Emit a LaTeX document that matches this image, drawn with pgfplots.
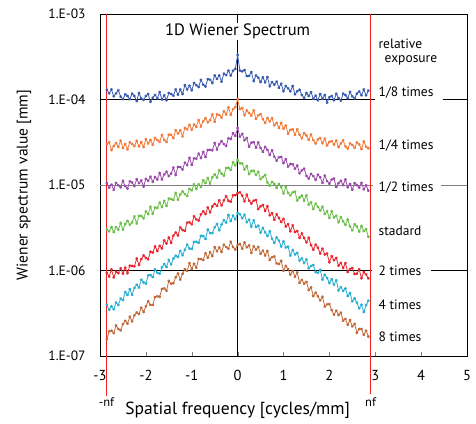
\documentclass[border=0pt]{standalone}
\usepackage{pgfplots}
\usepackage{pgfplotstable}
\pgfplotsset{compat=1.18}
\usepackage{fontspec}
\setmainfont{PT Sans}
\definecolor{cB}{HTML}{3A5BB0}
\definecolor{cO}{HTML}{F07A3A}
\definecolor{cP}{HTML}{9A4AA8}
\definecolor{cG}{HTML}{6CBF4A}
\definecolor{cR}{HTML}{E8282E}
\definecolor{cC}{HTML}{2AAFD0}
\definecolor{cBr}{HTML}{C06A3A}
\definecolor{nfred}{HTML}{F02020}
\pgfplotstableread{
x B O P G R C Br
-2.85 1.30e-4 3.00e-5 1.05e-5 3.02e-6 0.94e-6 3.98e-7 1.57e-7
-2.80 1.18e-4 3.16e-5 0.93e-5 2.87e-6 0.85e-6 3.47e-7 1.94e-7
-2.75 1.31e-4 2.56e-5 1.01e-5 3.22e-6 1.03e-6 3.82e-7 1.98e-7
-2.70 1.09e-4 2.86e-5 0.88e-5 2.81e-6 0.83e-6 3.51e-7 1.85e-7
-2.65 1.18e-4 3.10e-5 1.06e-5 3.22e-6 0.97e-6 4.22e-7 2.28e-7
-2.60 1.28e-4 2.79e-5 0.99e-5 3.01e-6 0.93e-6 3.95e-7 2.07e-7
-2.55 1.08e-4 3.31e-5 0.94e-5 3.60e-6 1.06e-6 4.69e-7 2.00e-7
-2.50 1.01e-4 2.70e-5 1.12e-5 3.01e-6 0.92e-6 4.51e-7 2.36e-7
-2.45 1.15e-4 3.01e-5 0.97e-5 3.49e-6 1.08e-6 5.61e-7 2.58e-7
-2.40 1.10e-4 2.61e-5 0.91e-5 3.81e-6 0.93e-6 5.18e-7 2.39e-7
-2.35 1.01e-4 3.16e-5 1.10e-5 3.43e-6 1.14e-6 6.05e-7 2.88e-7
-2.30 1.17e-4 3.02e-5 1.07e-5 3.66e-6 1.13e-6 5.19e-7 2.54e-7
-2.25 1.10e-4 2.85e-5 0.97e-5 4.29e-6 1.12e-6 6.26e-7 2.99e-7
-2.20 0.96e-4 3.29e-5 1.17e-5 3.55e-6 1.38e-6 6.83e-7 3.23e-7
-2.15 1.19e-4 2.83e-5 1.05e-5 4.37e-6 1.16e-6 6.32e-7 3.10e-7
-2.10 1.03e-4 3.18e-5 1.13e-5 4.34e-6 1.36e-6 7.81e-7 3.68e-7
-2.05 0.99e-4 2.77e-5 0.96e-5 4.08e-6 1.50e-6 7.25e-7 3.27e-7
-2.00 1.10e-4 3.44e-5 1.18e-5 4.90e-6 1.40e-6 7.04e-7 3.81e-7
-1.95 1.16e-4 3.06e-5 1.12e-5 4.56e-6 1.35e-6 8.75e-7 4.38e-7
-1.90 0.94e-4 3.36e-5 1.25e-5 5.57e-6 1.66e-6 8.84e-7 3.96e-7
-1.85 1.05e-4 2.95e-5 1.09e-5 4.60e-6 1.62e-6 8.37e-7 3.96e-7
-1.80 1.13e-4 3.56e-5 1.24e-5 5.46e-6 1.91e-6 10.3e-7 4.89e-7
-1.75 1.03e-4 3.35e-5 1.16e-5 5.39e-6 1.69e-6 9.41e-7 5.00e-7
-1.70 1.22e-4 3.20e-5 1.38e-5 6.22e-6 1.94e-6 9.18e-7 4.93e-7
-1.65 1.00e-4 3.86e-5 1.16e-5 5.51e-6 1.81e-6 10.9e-7 6.10e-7
-1.60 1.12e-4 3.37e-5 1.33e-5 6.53e-6 2.25e-6 11.9e-7 6.18e-7
-1.55 0.98e-4 3.19e-5 1.43e-5 5.70e-6 2.07e-6 11.0e-7 5.80e-7
-1.50 1.19e-4 3.89e-5 1.27e-5 6.95e-6 2.43e-6 13.3e-7 7.57e-7
-1.45 1.16e-4 3.86e-5 1.36e-5 6.85e-6 2.11e-6 11.8e-7 7.01e-7
-1.40 1.11e-4 3.55e-5 1.60e-5 6.70e-6 2.55e-6 13.8e-7 7.10e-7
-1.35 1.31e-4 4.37e-5 1.31e-5 8.09e-6 2.78e-6 14.9e-7 8.35e-7
-1.30 1.14e-4 4.00e-5 1.63e-5 6.73e-6 2.57e-6 14.4e-7 9.24e-7
-1.25 1.31e-4 4.36e-5 1.62e-5 7.75e-6 3.19e-6 17.0e-7 7.83e-7
-1.20 1.16e-4 3.71e-5 1.52e-5 8.42e-6 2.98e-6 15.1e-7 9.16e-7
-1.15 1.47e-4 4.64e-5 1.83e-5 7.81e-6 2.91e-6 17.5e-7 10.4e-7
-1.10 1.31e-4 4.47e-5 1.71e-5 7.44e-6 3.63e-6 20.1e-7 9.89e-7
-1.05 1.45e-4 5.06e-5 2.08e-5 9.01e-6 3.66e-6 18.1e-7 12.2e-7
-1.00 1.28e-4 4.43e-5 1.72e-5 8.66e-6 3.47e-6 17.9e-7 10.4e-7
-0.95 1.56e-4 5.10e-5 2.05e-5 10.2e-6 4.31e-6 21.6e-7 12.0e-7
-0.90 1.47e-4 4.78e-5 2.03e-5 8.98e-6 3.96e-6 21.7e-7 10.8e-7
-0.85 1.40e-4 5.74e-5 2.33e-5 10.2e-6 3.85e-6 21.1e-7 13.7e-7
-0.80 1.70e-4 4.83e-5 2.06e-5 9.48e-6 4.54e-6 25.5e-7 13.6e-7
-0.75 1.49e-4 5.56e-5 2.44e-5 11.4e-6 4.92e-6 25.3e-7 13.3e-7
-0.70 1.42e-4 6.05e-5 2.13e-5 10.5e-6 4.56e-6 23.4e-7 15.9e-7
-0.65 1.73e-4 5.41e-5 2.58e-5 12.1e-6 5.45e-6 30.1e-7 14.1e-7
-0.60 1.71e-4 5.73e-5 2.58e-5 10.4e-6 4.78e-6 27.4e-7 16.4e-7
-0.55 1.56e-4 6.68e-5 2.55e-5 12.3e-6 5.61e-6 27.4e-7 14.8e-7
-0.50 1.91e-4 5.49e-5 3.11e-5 13.3e-6 6.02e-6 32.0e-7 18.8e-7
-0.45 1.74e-4 6.70e-5 2.60e-5 12.2e-6 5.69e-6 35.1e-7 16.8e-7
-0.40 1.91e-4 6.59e-5 3.00e-5 14.9e-6 6.62e-6 29.6e-7 18.6e-7
-0.35 1.62e-4 6.14e-5 3.26e-5 13.6e-6 5.77e-6 34.5e-7 16.5e-7
-0.30 2.01e-4 7.29e-5 3.01e-5 12.9e-6 6.60e-6 38.8e-7 20.0e-7
-0.25 1.93e-4 6.67e-5 2.86e-5 15.8e-6 7.41e-6 36.4e-7 18.8e-7
-0.20 2.18e-4 8.08e-5 3.52e-5 15.9e-6 6.54e-6 44.6e-7 18.0e-7
-0.15 1.91e-4 6.62e-5 3.45e-5 15.0e-6 6.38e-6 37.9e-7 21.7e-7
-0.10 2.17e-4 7.73e-5 4.04e-5 18.5e-6 7.59e-6 43.9e-7 18.8e-7
-0.05 2.28e-4 8.13e-5 3.76e-5 17.0e-6 7.60e-6 39.6e-7 17.6e-7
0.00 3.31e-4 10.1e-5 4.64e-5 19.6e-6 8.05e-6 47.0e-7 19.9e-7
0.05 2.18e-4 7.72e-5 3.68e-5 17.9e-6 8.21e-6 45.5e-7 20.4e-7
0.10 2.13e-4 7.95e-5 3.97e-5 17.9e-6 7.52e-6 40.9e-7 18.0e-7
0.15 2.21e-4 6.54e-5 3.34e-5 15.2e-6 6.45e-6 44.9e-7 21.3e-7
0.20 1.88e-4 7.44e-5 3.55e-5 16.7e-6 7.71e-6 36.7e-7 18.7e-7
0.25 1.89e-4 6.95e-5 2.80e-5 13.4e-6 6.55e-6 39.4e-7 19.7e-7
0.30 2.09e-4 6.47e-5 3.13e-5 14.6e-6 6.08e-6 32.7e-7 16.1e-7
0.35 1.64e-4 7.47e-5 3.17e-5 14.7e-6 6.58e-6 38.6e-7 19.2e-7
0.40 1.91e-4 5.93e-5 2.73e-5 13.1e-6 6.68e-6 32.3e-7 17.5e-7
0.45 1.80e-4 6.51e-5 3.15e-5 14.3e-6 5.22e-6 33.5e-7 18.9e-7
0.50 1.60e-4 6.74e-5 2.72e-5 11.7e-6 5.62e-6 27.8e-7 15.7e-7
0.55 1.82e-4 5.89e-5 2.44e-5 12.4e-6 5.83e-6 31.5e-7 17.1e-7
0.60 1.59e-4 5.32e-5 2.79e-5 13.1e-6 4.99e-6 28.0e-7 15.0e-7
0.65 1.83e-4 6.10e-5 2.58e-5 10.7e-6 5.65e-6 25.3e-7 16.9e-7
0.70 1.43e-4 5.54e-5 2.25e-5 9.81e-6 4.42e-6 28.8e-7 13.3e-7
0.75 1.60e-4 6.05e-5 2.55e-5 10.9e-6 4.69e-6 23.6e-7 14.3e-7
0.80 1.49e-4 4.99e-5 2.15e-5 10.3e-6 3.92e-6 21.0e-7 14.6e-7
0.85 1.62e-4 5.33e-5 1.93e-5 9.25e-6 4.54e-6 24.3e-7 12.1e-7
0.90 1.37e-4 4.63e-5 2.11e-5 10.3e-6 4.12e-6 22.4e-7 11.9e-7
0.95 1.53e-4 5.34e-5 2.13e-5 9.42e-6 3.69e-6 19.1e-7 13.0e-7
1.00 1.25e-4 4.57e-5 1.81e-5 7.96e-6 4.02e-6 21.9e-7 9.94e-7
1.05 1.44e-4 4.96e-5 2.01e-5 9.52e-6 3.27e-6 18.6e-7 11.3e-7
1.10 1.35e-4 3.98e-5 1.64e-5 8.10e-6 3.49e-6 19.0e-7 10.4e-7
1.15 1.25e-4 4.42e-5 1.76e-5 7.57e-6 2.88e-6 15.0e-7 8.97e-7
1.20 1.44e-4 4.48e-5 1.75e-5 8.19e-6 3.37e-6 17.4e-7 9.90e-7
1.25 1.15e-4 3.86e-5 1.55e-5 8.36e-6 2.81e-6 15.4e-7 8.45e-7
1.30 1.25e-4 4.49e-5 1.69e-5 6.59e-6 2.90e-6 16.1e-7 9.49e-7
1.35 1.30e-4 3.89e-5 1.37e-5 7.15e-6 2.41e-6 13.1e-7 7.16e-7
1.40 1.13e-4 3.51e-5 1.48e-5 7.54e-6 2.72e-6 13.9e-7 7.78e-7
1.45 1.04e-4 4.05e-5 1.55e-5 6.58e-6 2.40e-6 12.2e-7 7.01e-7
1.50 1.19e-4 3.79e-5 1.28e-5 7.55e-6 2.13e-6 13.5e-7 7.37e-7
1.55 1.10e-4 3.37e-5 1.19e-5 5.90e-6 2.42e-6 10.6e-7 5.92e-7
1.60 1.22e-4 3.90e-5 1.35e-5 6.28e-6 1.98e-6 11.3e-7 6.36e-7
1.65 1.02e-4 3.35e-5 1.27e-5 5.22e-6 1.75e-6 11.6e-7 5.03e-7
1.70 1.11e-4 3.06e-5 1.15e-5 6.05e-6 2.01e-6 9.59e-7 5.51e-7
1.75 0.98e-4 3.42e-5 1.32e-5 5.56e-6 1.85e-6 9.41e-7 5.00e-7
1.80 1.16e-4 3.53e-5 1.23e-5 5.04e-6 1.58e-6 10.2e-7 4.47e-7
1.85 1.02e-4 3.08e-5 1.06e-5 5.57e-6 1.80e-6 7.83e-7 4.93e-7
1.90 1.13e-4 3.49e-5 1.29e-5 4.58e-6 1.54e-6 8.93e-7 3.79e-7
1.95 0.92e-4 2.90e-5 1.11e-5 4.94e-6 1.58e-6 8.18e-7 4.03e-7
2.00 1.06e-4 3.19e-5 1.04e-5 4.12e-6 1.25e-6 7.12e-7 4.04e-7
2.05 1.10e-4 3.26e-5 1.16e-5 4.93e-6 1.47e-6 7.92e-7 3.44e-7
2.10 0.98e-4 2.97e-5 1.19e-5 4.17e-6 1.32e-6 6.82e-7 3.04e-7
2.15 1.17e-4 3.31e-5 0.95e-5 4.37e-6 1.40e-6 7.68e-7 3.39e-7
2.20 1.04e-4 2.78e-5 1.05e-5 3.67e-6 1.14e-6 5.85e-7 3.02e-7
2.25 0.97e-4 3.06e-5 1.12e-5 4.21e-6 1.23e-6 6.39e-7 3.22e-7
2.30 1.17e-4 3.32e-5 1.00e-5 3.77e-6 1.07e-6 5.78e-7 2.59e-7
2.35 1.13e-4 2.83e-5 1.16e-5 3.43e-6 1.22e-6 6.16e-7 2.72e-7
2.40 1.03e-4 2.67e-5 0.94e-5 3.95e-6 0.96e-6 5.02e-7 2.32e-7
2.45 1.23e-4 3.07e-5 1.03e-5 3.28e-6 1.04e-6 5.46e-7 2.63e-7
2.50 1.09e-4 2.94e-5 0.88e-5 2.95e-6 1.07e-6 4.36e-7 2.22e-7
2.55 1.03e-4 2.72e-5 1.05e-5 3.47e-6 0.91e-6 4.73e-7 2.38e-7
2.60 1.17e-4 3.14e-5 1.00e-5 3.27e-6 0.92e-6 4.20e-7 1.87e-7
2.65 1.24e-4 2.99e-5 0.93e-5 2.85e-6 1.03e-6 3.61e-7 2.07e-7
2.70 1.12e-4 2.63e-5 1.06e-5 3.32e-6 0.81e-6 3.98e-7 2.07e-7
2.75 1.31e-4 3.23e-5 0.89e-5 2.89e-6 0.96e-6 3.28e-7 1.77e-7
2.80 1.12e-4 2.81e-5 0.99e-5 3.05e-6 0.90e-6 3.93e-7 1.98e-7
2.85 1.27e-4 2.69e-5 0.86e-5 2.48e-6 0.81e-6 4.43e-7 1.69e-7
}\wiener
\begin{document}
\begin{tikzpicture}
\begin{axis}[
  scale only axis, width=367pt, height=342pt,
  ymode=log, xmin=-3, xmax=5, ymin=1e-7, ymax=1e-3,
  clip=false,
  axis line style={black, line width=0.9pt},
  xtick={-3,-2,-1,0,1,2,3,4,5},
  xtick pos=bottom, xtick align=inside,
  major tick length=4pt,
  ytick={1e-7,1e-6,1e-5,1e-4,1e-3},
  yticklabels={1.E-07,1.E-06,1.E-05,1.E-04,1.E-03},
  ytick style={draw=none},
  ytick pos=left,
  minor ytick={},
  yminorticks=false,
  /pgf/number format/assume math mode=true,
  yticklabel style={font=\fontsize{13.5}{15}\selectfont, xshift=-11pt},
  xticklabel style={font=\fontsize{14.5}{16}\selectfont, yshift=-11pt},
  every axis plot/.append style={line width=0.8pt, mark size=1.3pt, mark=asterisk},
]
% reference lines
\addplot[black, line width=0.7pt, mark=none] coordinates {(-3,1e-4) (3.0,1e-4)};
\addplot[black, line width=0.7pt, mark=none] coordinates {(4.47,1e-4) (5,1e-4)};
\addplot[gray, line width=0.9pt, mark=none] coordinates {(-3,1e-5) (2.95,1e-5)};
\addplot[gray, line width=0.9pt, mark=none] coordinates {(4.43,1e-5) (5,1e-5)};
\addplot[black, line width=0.7pt, mark=none] coordinates {(-3,1e-6) (2.93,1e-6)};
\addplot[black, line width=0.7pt, mark=none] coordinates {(4.21,1e-6) (5,1e-6)};
\addplot[black, line width=0.9pt, mark=none] coordinates {(0,1e-7) (0,1e-3)};
% series
\addplot[cB] table[x=x,y=B] {\wiener};
\addplot[cO] table[x=x,y=O] {\wiener};
\addplot[cP] table[x=x,y=P] {\wiener};
\addplot[cG] table[x=x,y=G] {\wiener};
\addplot[cR] table[x=x,y=R] {\wiener};
\addplot[cC] table[x=x,y=C] {\wiener};
\addplot[cBr] table[x=x,y=Br] {\wiener};
% Nyquist lines
\addplot[nfred, line width=1.4pt, mark=none] coordinates {(-2.86,1e-3) (-2.86,3.4e-8)};
\addplot[nfred, line width=1.4pt, mark=none] coordinates {(2.90,1e-3) (2.90,3.6e-8)};
\node[font=\fontsize{12.5}{14}\selectfont, anchor=north, inner sep=0pt] at (axis cs:-2.86,3.3e-8) {-nf};
\node[font=\fontsize{12.5}{14}\selectfont, anchor=north, inner sep=0pt] at (axis cs:2.90,3.3e-8) {nf};
% axis labels
\node[font=\fontsize{17.5}{19}\selectfont, anchor=center] at ([yshift=-54pt]axis cs:0,1e-7) {Spatial frequency [cycles/mm]};
\node[font=\fontsize{15.5}{17}\selectfont, anchor=center, rotate=90] at ([xshift=-76pt]axis cs:-3,1e-5) {Wiener spectrum value [mm]};
% title
\node[font=\fontsize{16.5}{18}\selectfont, fill=white, inner sep=1pt] at (axis cs:0,6.3e-4) {1D Wiener Spectrum};
% right labels
\begin{scope}[every node/.style={font=\fontsize{13.5}{15}\selectfont, anchor=west, inner sep=0pt}]
\node[align=left] at (axis cs:3.07,3.6e-4) {relative\\[-1pt]\hspace*{0.45em}exposure};
\node at (axis cs:3.07,1.21e-4) {1/8 times};
\node at (axis cs:3.07,2.85e-5) {1/4 times};
\node at (axis cs:3.07,9.3e-6) {1/2 times};
\node at (axis cs:3.07,2.9e-6) {stadard};
\node at (axis cs:3.07,9.9e-7) {2 times};
\node at (axis cs:3.07,4.0e-7) {4 times};
\node at (axis cs:3.07,1.7e-7) {8 times};
\end{scope}
\end{axis}
\pgfresetboundingbox
\path[use as bounding box] (current axis.south west) ++(-100pt,-67pt) rectangle ++(476pt,423pt);
\end{tikzpicture}
\end{document}
